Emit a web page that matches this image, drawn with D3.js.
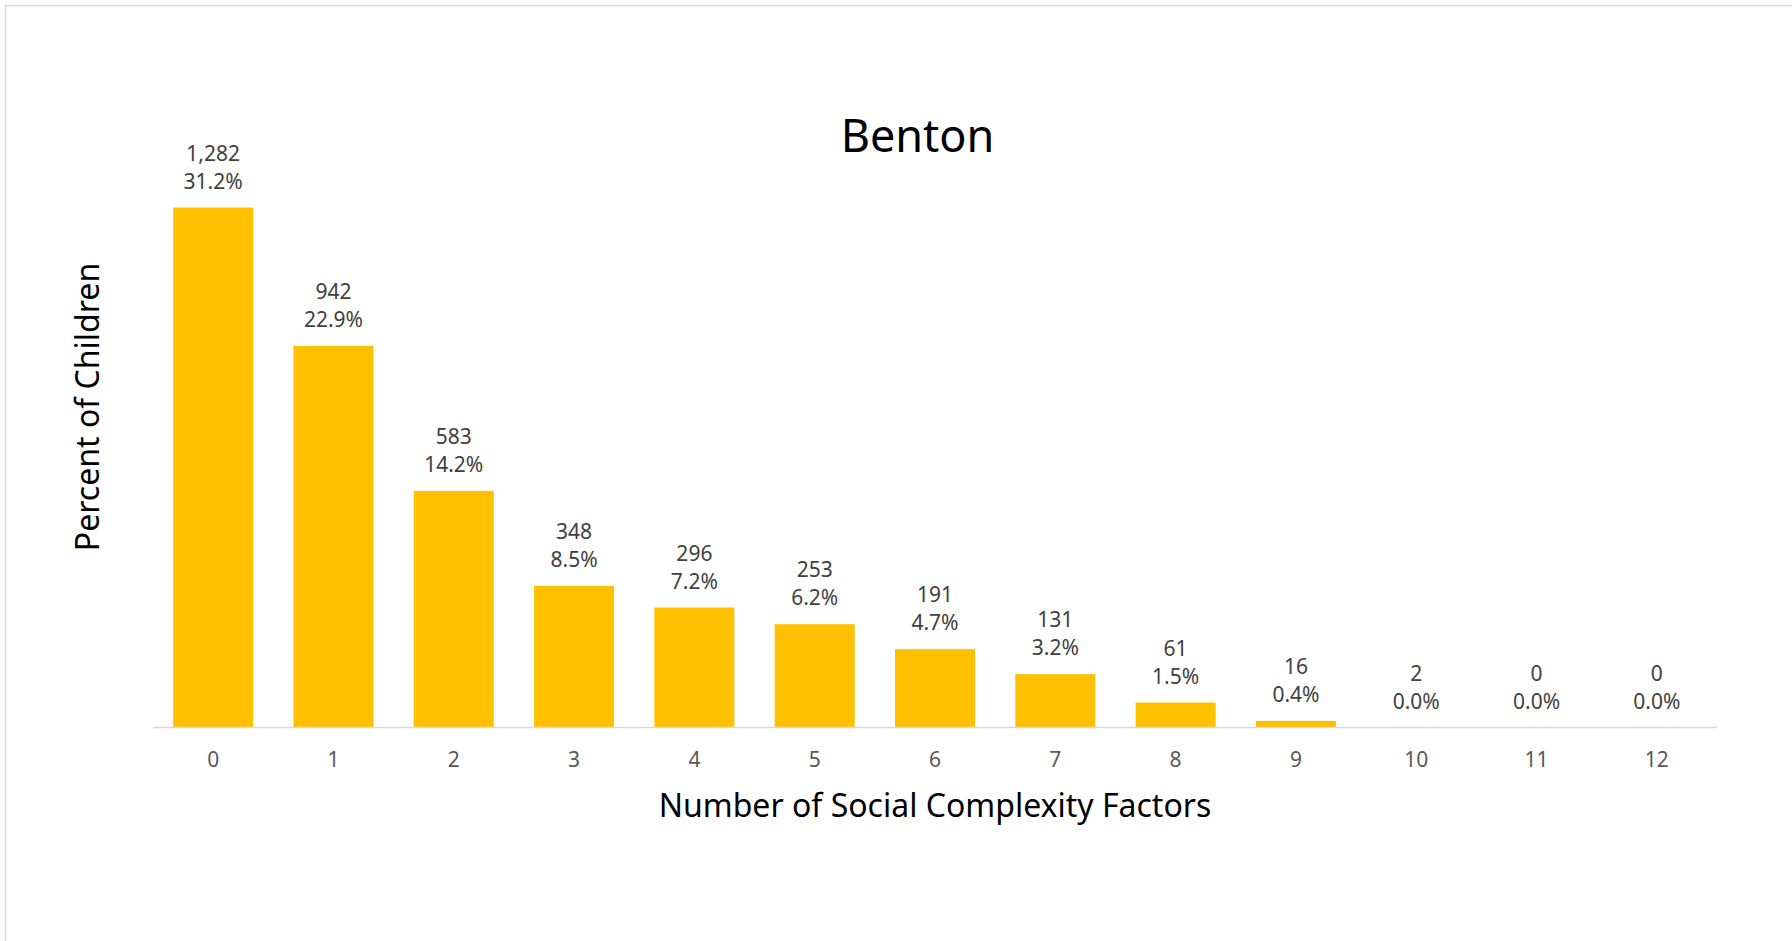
<!DOCTYPE html>
<html>
<head>
<meta charset="utf-8">
<script src="https://cdn.jsdelivr.net/npm/d3@7"></script>
<style>
  body { margin: 0; background: #fff; }
  svg { display: block; font-family: "Noto Sans", "Open Sans", sans-serif; }
</style>
</head>
<body>
<svg id="chart" width="1792" height="941"></svg>
<script>
// values
var factors = ["0", "1", "2", "3", "4", "5", "6", "7", "8", "9", "10", "11", "12"];
var children = [1282, 942, 583, 348, 296, 253, 191, 131, 61, 16, 2, 0, 0];
var percents = [31.2, 22.9, 14.2, 8.5, 7.2, 6.2, 4.7, 3.2, 1.5, 0.4, 0.0, 0.0, 0.0];

var width = 1792, height = 941;
var svg = d3.select("#chart");

// light frame round the chart area
svg.append("rect")
    .attr("x", 5.5).attr("y", 5.5)
    .attr("width", width + 20).attr("height", height + 20)
    .attr("fill", "none")
    .attr("stroke", "#d9d9d9")
    .attr("stroke-width", 1.6);

var left = 153, right = 1717, baseY = 727.5, topY = 144.2;

var x = d3.scaleBand()
    .domain(factors)
    .range([left, right])
    .paddingInner(0.335)
    .paddingOuter(0.1675);

var y = d3.scaleLinear()
    .domain([0, 35])
    .range([baseY, topY]);

// bars
svg.selectAll(".bar")
    .data(factors)
    .enter().append("rect")
    .attr("class", "bar")
    .attr("x", function(d) { return x(d); })
    .attr("y", function(d, i) { return y(percents[i]); })
    .attr("width", x.bandwidth())
    .attr("height", function(d, i) { return baseY - y(percents[i]); })
    .attr("fill", "#ffc000");

// x axis
var xAxis = svg.append("g")
    .attr("transform", "translate(0," + baseY + ")")
    .call(d3.axisBottom(x).tickSize(0).tickPadding(0));
xAxis.select(".domain")
    .attr("d", "M" + left + ",0H" + right)
    .attr("stroke", "#d9d9d9")
    .attr("stroke-width", 1.6);
xAxis.selectAll(".tick text")
    .attr("y", 39.5)
    .attr("dy", null)
    .attr("fill", "#595959")
    .style("font-size", "21px")
    .style("font-family", "'Noto Sans', sans-serif");

// data labels: count and percent
var labels = svg.selectAll(".lbl")
    .data(factors)
    .enter().append("g")
    .attr("class", "lbl")
    .attr("transform", function(d, i) {
        return "translate(" + (x(d) + x.bandwidth() / 2) + "," + y(percents[i]) + ")";
    });
labels.append("text")
    .attr("y", -47)
    .attr("text-anchor", "middle")
    .attr("fill", "#404040")
    .style("font-size", "21px")
    .text(function(d, i) { return d3.format(",")(children[i]); });
labels.append("text")
    .attr("y", -19)
    .attr("text-anchor", "middle")
    .attr("fill", "#404040")
    .style("font-size", "21px")
    .text(function(d, i) { return percents[i].toFixed(1) + "%"; });

// title
svg.append("text")
    .attr("x", 917.5)
    .attr("y", 152)
    .attr("text-anchor", "middle")
    .attr("fill", "#000")
    .style("font-size", "45px")
    .text("Benton");

// axis titles
svg.append("text")
    .attr("x", 935)
    .attr("y", 816.5)
    .attr("text-anchor", "middle")
    .attr("fill", "#000")
    .style("font-size", "32px")
    .text("Number of Social Complexity Factors");

svg.append("text")
    .attr("transform", "translate(99,407) rotate(-90)")
    .attr("text-anchor", "middle")
    .attr("fill", "#000")
    .style("font-size", "32px")
    .text("Percent of Children");
</script>
</body>
</html>
